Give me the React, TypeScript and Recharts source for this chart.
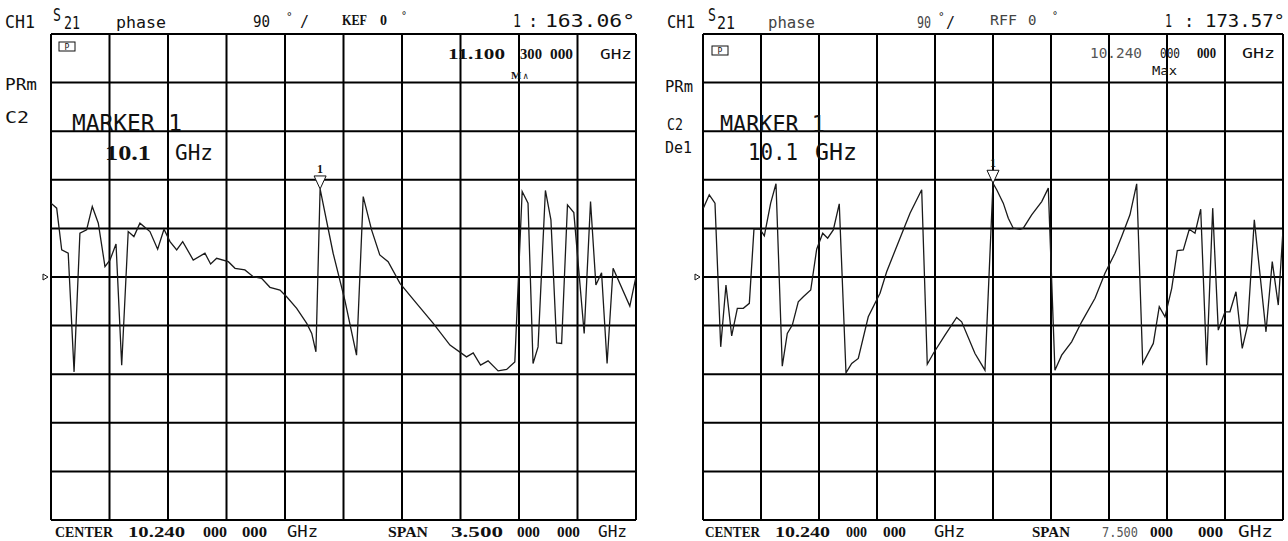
import { LineChart, Line, XAxis, YAxis, CartesianGrid, ReferenceDot } from 'recharts'

// left screen: center 10.24 GHz, span 3.5 GHz
const leftFreq = [
  8.49, 8.524, 8.554, 8.593, 8.628, 8.663, 8.703, 8.737, 8.773, 8.813,
  8.843, 8.879, 8.913, 8.952, 8.986, 9.022, 9.082, 9.128, 9.166, 9.202,
  9.242, 9.278, 9.341, 9.411, 9.445, 9.481, 9.551, 9.591, 9.65, 9.7,
  9.75, 9.8, 9.86, 9.9, 9.96, 10.02, 10.05, 10.075, 10.1, 10.178,
  10.248, 10.318, 10.358, 10.408, 10.457, 10.507, 10.578, 10.677, 10.777, 10.877,
  10.976, 11.016, 11.06, 11.105, 11.165, 11.216, 11.265, 11.309, 11.344, 11.374,
  11.404, 11.448, 11.481, 11.515, 11.545, 11.58, 11.618, 11.68, 11.718, 11.75,
  11.784, 11.817, 11.853, 11.953, 11.99,
]
const leftPhase = [
  136.8, 127.5, 50.1, 44, -175.7, 81.1, 87.2, 130.5, 99.7, 19.1,
  31.5, 61.2, -163.3, 84.1, 74.8, 99.7, 84.1, 51.4, 88.5, 65.5,
  50.1, 65.5, 31.5, 44, 24.1, 34.7, 28.4, 16.1, 13, 0.6,
  -2.4, -19.1, -24.1, -36.6, -58.1, -85.9, -104.5, -138.6, 163.06, 44,
  -42.7, -144.8, 149, 87.2, 40.8, 28.4, -11.7, -48.8, -85.9, -126.2,
  -147.9, -140.5, -163.3, -155.3, -173.9, -171.3, -157.2, 158.3, 136.8, -160.2,
  -129.4, 160.2, 105.8, -121.9, -123, 133.6, 119.3, -104.5, 139.7, -14.8,
  8, -160.2, 16.1, -53.8, 0.6,
]
const leftMarker = [10.1, 163.06]

// right screen: center 10.24 GHz, span 7.5 GHz
const rightFreq = [
  6.494, 6.571, 6.645, 6.719, 6.787, 6.861, 6.934, 7.011, 7.089, 7.149,
  7.227, 7.283, 7.365, 7.434, 7.515, 7.58, 7.645, 7.722, 7.787, 7.883,
  7.96, 8.038, 8.102, 8.175, 8.252, 8.339, 8.413, 8.498, 8.627, 8.779,
  8.865, 9.08, 9.167, 9.318, 9.39, 9.468, 9.619, 9.77, 9.835, 10.007,
  10.136, 10.24, 10.288, 10.373, 10.438, 10.502, 10.589, 10.632, 10.74, 10.87,
  10.955, 11.041, 11.128, 11.257, 11.387, 11.559, 11.688, 11.817, 11.904, 12.011,
  12.098, 12.176, 12.313, 12.39, 12.464, 12.551, 12.623, 12.701, 12.778, 12.852,
  12.926, 13.003, 13.081, 13.153, 13.24, 13.304, 13.382, 13.463, 13.533, 13.619,
  13.77, 13.851, 13.929, 13.99,
]
const rightPhase = [
  127.5, 152.2, 136.8, -129.3, -14.8, -108.9, -58.1, -58.1, -48.8, 88.5,
  88.5, 76.1, 136.8, 172.6, -165.2, -104.5, -89.1, -45.8, -36.6, -24.1,
  51.4, 81.1, 71.8, 87.2, 135.5, -177.6, -160.2, -150.9, -73.7, -30.2,
  9.8, 87.2, 118.2, 161.5, -161.5, -141.6, -107.6, -74.8, -83, -141.6,
  -172.6, 173.57, 161.5, 136.8, 108.9, 90.4, 88.5, 90.4, 115.1, 139.7,
  164.6, -172.6, -144.8, -120.1, -83, -39.5, 6.9, 44, 74.8, 115.1,
  172.6, -160.2, -123, -55.1, -73.7, -21, 48.8, 50.1, 88.5, 81.1,
  125.6, -163.3, 127.5, -98.4, -64.4, -64.4, -27.3, -132.3, -89.1, 105.8,
  -101.5, 28.4, -52, 87.2,
]
const rightMarker = [10.24, 173.57]

// 90 deg/div, ref 0 deg at the centre line
const phaseTicks = [-450, -360, -270, -180, -90, 0, 90, 180, 270, 360, 450]

const mono = '"DejaVu Sans Mono", monospace'
const serif = '"Liberation Serif", "DejaVu Serif", serif'

const MarkerShape = (props: any) => {
  const { cx, cy } = props
  return (
    <g>
      <polygon points={`${cx - 6},${cy - 13} ${cx + 6},${cy - 13} ${cx},${cy}`} fill="#fff" stroke="#111" strokeWidth={1} />
      <text x={cx} y={cy - 16} textAnchor="middle" fontFamily={serif} fontSize={12} fontWeight={700} fill="#111">1</text>
    </g>
  )
}

const RefPointer = (props: any) => {
  const { cx, cy } = props
  return <polygon points={`${cx - 8},${cy - 3} ${cx - 8},${cy + 3} ${cx - 3},${cy}`} fill="#fff" stroke="#111" strokeWidth={1} />
}

interface PanelProps {
  freq: number[]
  phase: number[]
  center: number
  span: number
  marker: number[]
  left: number
  width: number
  margin: { top: number; right: number; bottom: number; left: number }
}

function PhasePanel({ freq, phase, center, span, marker, left, width, margin }: PanelProps) {
  const data = freq.map((f, i) => ({ f, phase: phase[i] }))
  const lo = center - span / 2
  const hi = center + span / 2
  const ticks = Array.from({ length: 11 }, (_, i) => +(lo + (i * span) / 10).toFixed(3))
  return (
    <div style={{ position: 'absolute', left, top: 0 }}>
      <LineChart width={width} height={541} data={data} margin={margin}>
        <XAxis dataKey="f" type="number" domain={[lo, hi]} ticks={ticks} hide allowDataOverflow />
        <YAxis type="number" domain={[-450, 450]} ticks={phaseTicks} hide allowDataOverflow />
        <CartesianGrid stroke="#000" strokeWidth={2} />
        <Line dataKey="phase" type="linear" stroke="#1a1a1a" strokeWidth={1.3} dot={false} isAnimationActive={false} />
        <ReferenceDot x={marker[0]} y={marker[1]} shape={MarkerShape} ifOverflow="visible" />
        <ReferenceDot x={lo} y={0} shape={RefPointer} ifOverflow="visible" />
      </LineChart>
    </div>
  )
}

function T({ x, y, w, size = 16, bold = false, ser = false, fill = '#111', children }: any) {
  return (
    <text x={x} y={y} fontSize={size} fontFamily={ser ? serif : mono} fontWeight={bold ? 700 : 400} fill={fill}
      textLength={w} lengthAdjust={w ? 'spacingAndGlyphs' : undefined}>
      {children}
    </text>
  )
}

const Icon = ({ x, y }: { x: number; y: number }) => (
  <g>
    <rect x={x} y={y} width={16} height={9} fill="none" stroke="#111" strokeWidth={1} />
    <text x={x + 8} y={y + 8} textAnchor="middle" fontFamily={mono} fontSize={8} fill="#111">P</text>
  </g>
)

export default function App() {
  return (
    <div style={{ position: 'absolute', left: 0, top: 0, width: 1288, height: 541, background: '#fff', overflow: 'hidden' }}>
      <PhasePanel freq={leftFreq} phase={leftPhase} center={10.24} span={3.5} marker={leftMarker}
        left={0} width={650} margin={{ top: 34, right: 14, bottom: 21, left: 51 }} />
      <PhasePanel freq={rightFreq} phase={rightPhase} center={10.24} span={7.5} marker={rightMarker}
        left={650} width={638} margin={{ top: 34, right: 5, bottom: 21, left: 53 }} />

      <svg width={1288} height={541} style={{ position: 'absolute', left: 0, top: 0, pointerEvents: 'none' }}>
        {/* left screen annotations */}
        <T x={5} y={28} w={30} size={17}>CH1</T>
        <T x={53} y={21} w={8} size={17}>S</T>
        <T x={64} y={29} w={16} size={17}>21</T>
        <T x={116} y={28} w={50} size={16}>phase</T>
        <T x={253} y={27} w={17} size={15}>90</T>
        <T x={286} y={20} size={11}>°</T>
        <T x={300} y={27} size={15}>/</T>
        <T x={342} y={25} w={25} size={14} bold ser>KEF</T>
        <T x={380} y={25} size={14} bold ser>0</T>
        <T x={401} y={19} size={10}>°</T>
        <T x={513} y={27} w={8} size={17}>1</T>
        <T x={528} y={27} size={17}>:</T>
        <T x={545} y={27} w={90} size={17}>163.06°</T>
        <Icon x={59} y={42} />
        <T x={448} y={59} w={57} size={14} bold ser>11.100</T>
        <T x={520} y={59} w={22} size={14} bold ser>300</T>
        <T x={550} y={59} w={23} size={14} bold ser>000</T>
        <T x={600} y={59} w={32} size={14}>GHz</T>
        <T x={511} y={79} size={11} bold ser>M</T>
        <T x={523} y={79} size={9}>∧</T>
        <T x={5} y={90} w={32} size={16}>PRm</T>
        <T x={5} y={123} w={24} size={16}>C2</T>
        <T x={72} y={131} w={110} size={23}>MARKER 1</T>
        <T x={105} y={160} w={46} size={22} bold ser>10.1</T>
        <T x={175} y={160} w={38} size={22}>GHz</T>
        <T x={55} y={537} w={58} size={15} bold ser>CENTER</T>
        <T x={128} y={537} w={57} size={15} bold ser>10.240</T>
        <T x={203} y={537} w={24} size={15} bold ser>000</T>
        <T x={242} y={537} w={25} size={15} bold ser>000</T>
        <T x={287} y={537} w={31} size={15}>GHz</T>
        <T x={388} y={537} w={40} size={15} bold ser>SPAN</T>
        <T x={451} y={537} w={52} size={15} bold ser>3.500</T>
        <T x={517} y={537} w={23} size={15} bold ser>000</T>
        <T x={557} y={537} w={23} size={15} bold ser>000</T>
        <T x={598} y={537} w={29} size={15}>GHz</T>

        {/* right screen annotations */}
        <T x={667} y={28} w={28} size={17}>CH1</T>
        <T x={708} y={21} w={8} size={17}>S</T>
        <T x={717} y={29} w={18} size={17}>21</T>
        <T x={768} y={28} w={47} size={16} fill="#444">phase</T>
        <T x={917} y={28} w={14} size={15} fill="#444">90</T>
        <T x={938} y={20} size={11}>°</T>
        <T x={946} y={28} size={15}>/</T>
        <T x={990} y={25} w={27} size={14} fill="#444">RFF</T>
        <T x={1028} y={25} size={14} fill="#444">0</T>
        <T x={1052} y={19} size={10}>°</T>
        <T x={1165} y={27} w={7} size={17}>1</T>
        <T x={1184} y={27} size={17}>:</T>
        <T x={1205} y={27} w={80} size={17}>173.57°</T>
        <Icon x={712} y={46} />
        <T x={1090} y={58} w={52} size={14} fill="#555">10.240</T>
        <T x={1160} y={58} w={20} size={14}>000</T>
        <T x={1197} y={58} w={19} size={14} bold ser>000</T>
        <T x={1242} y={58} w={33} size={14}>GHz</T>
        <T x={1152} y={75} w={25} size={12}>Max</T>
        <T x={665} y={92} w={28} size={16}>PRm</T>
        <T x={667} y={130} w={16} size={16}>C2</T>
        <T x={665} y={153} w={27} size={16}>De1</T>
        <T x={720} y={132} w={105} size={23}>MARKER 1</T>
        <T x={748} y={160} w={50} size={23}>10.1</T>
        <T x={815} y={160} w={42} size={23}>GHz</T>
        <T x={705} y={537} w={55} size={15} bold ser>CENTER</T>
        <T x={775} y={537} w={55} size={15} bold ser>10.240</T>
        <T x={846} y={537} w={21} size={15} bold ser>000</T>
        <T x={883} y={537} w={23} size={15} bold ser>000</T>
        <T x={934} y={537} w={31} size={15}>GHz</T>
        <T x={1032} y={537} w={38} size={15} bold ser>SPAN</T>
        <T x={1102} y={537} w={36} size={14} fill="#555">7.500</T>
        <T x={1150} y={537} w={23} size={15} bold ser>000</T>
        <T x={1198} y={537} w={25} size={15} bold ser>000</T>
        <T x={1238} y={537} w={35} size={15}>GHz</T>
      </svg>
    </div>
  )
}
